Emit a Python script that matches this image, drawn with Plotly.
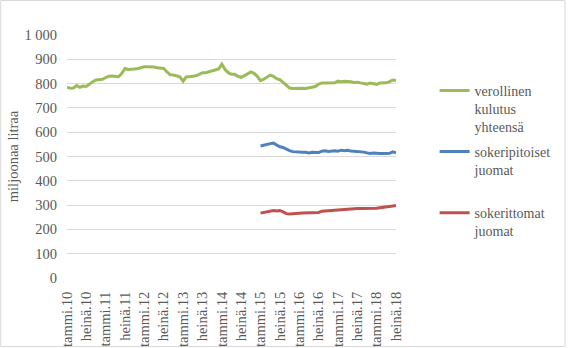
import plotly.graph_objects as go

# Finnish month abbreviations, monthly series Jan 2010 - Jul 2018
month_names = ["tammi", "helmi", "maalis", "huhti", "touko", "kesä",
               "heinä", "elo", "syys", "loka", "marras", "joulu"]
months = [f"{month_names[i % 12]}.{10 + i // 12}" for i in range(103)]

# Total taxable consumption, million litres (Jan 2010 - Jul 2018)
verollinen = [785, 781, 782, 792, 785, 790, 788, 800, 808, 815, 818, 818,
              825, 830, 831, 830, 828, 842, 862, 858, 858, 860, 862, 866,
              869, 869, 870, 868, 865, 862, 862, 848, 836, 835, 830, 828,
              810, 828, 828, 830, 832, 838, 845, 845, 848, 852, 857, 860,
              880, 858, 845, 838, 838, 830, 826, 832, 840, 848, 842, 830,
              812, 818, 826, 835, 830, 820, 816, 805, 792, 782, 780, 781,
              783, 781, 780, 782, 785, 788, 798, 802, 802, 802, 805, 803,
              810, 808, 810, 810, 808, 805, 806, 803, 802, 798, 802, 800,
              797, 802, 802, 803, 808, 815, 813]

# Sugary drinks, Jan 2015 - Jul 2018
sokeripitoiset = [543, 547, 549, 553, 555, 548, 540, 537, 530, 524, 520, 518,
                  518, 517, 517, 515, 517, 515, 516, 522, 524, 521, 524, 524,
                  522, 526, 524, 526, 523, 522, 522, 521, 518, 515, 512, 514,
                  512, 512, 512, 512, 513, 519, 515]

# Sugar-free drinks, Jan 2015 - Jul 2018
sokerittomat = [267, 270, 275, 278, 278, 276, 278, 272, 265, 263, 265, 266,
                266, 267, 268, 266, 268, 269, 270, 275, 276, 278, 278, 279,
                280, 282, 284, 284, 284, 285, 286, 286, 286, 284, 286, 287,
                287, 289, 290, 291, 293, 296, 299]

tick_labels = months[::6]
y_ticks = [0, 100, 200, 300, 400, 500, 600, 700, 800, 900, 1000]
y_tick_text = ["0", "100", "200", "300", "400", "500", "600", "700", "800", "900", "1 000"]

FONT = "Liberation Serif"
TXT = "#595959"

fig = go.Figure()
fig.add_trace(go.Scatter(x=months, y=verollinen, mode="lines",
                         name="verollinen<br>kulutus<br>yhteensä",
                         legendgroup="a",
                         line=dict(color="#9BBB59", width=3)))
fig.add_trace(go.Scatter(x=months[60:], y=sokeripitoiset, mode="lines",
                         name="sokeripitoiset<br>juomat<br>&nbsp;",
                         legendgroup="b",
                         line=dict(color="#4F81BD", width=3)))
fig.add_trace(go.Scatter(x=months[60:], y=sokerittomat, mode="lines",
                         name="sokerittomat<br>juomat",
                         legendgroup="c",
                         line=dict(color="#C0504D", width=3)))

fig.update_layout(
    width=568, height=348,
    margin=dict(l=67, r=171, t=35, b=70),
    paper_bgcolor="white", plot_bgcolor="white",
    font=dict(family=FONT, size=14, color=TXT),
    showlegend=True,
    legend=dict(x=1.114, y=0.836, xanchor="left", yanchor="top",
                valign="top", tracegroupgap=3.5, itemwidth=30,
                font=dict(family=FONT, size=14, color=TXT),
                bgcolor="rgba(0,0,0,0)"),
    shapes=[dict(type="rect", xref="paper", yref="paper",
                 x0=(0.5 - 67) / 330, x1=(566.5 - 67) / 330,
                 y0=(278 - 346.5) / 243, y1=(278 - 0.5) / 243,
                 line=dict(color="#D9D9D9", width=1), layer="below")],
)

fig.update_xaxes(type="category", categoryorder="array", categoryarray=months,
                 range=[0, 102], tickmode="array", tickvals=tick_labels,
                 ticktext=tick_labels, tickangle=-90, showgrid=False,
                 showline=False, ticks="outside", ticklen=7,
                 tickcolor="rgba(0,0,0,0)", automargin=False,
                 tickfont=dict(family=FONT, size=14.5, color=TXT))
fig.update_yaxes(range=[0, 1000], tickmode="array", tickvals=y_ticks,
                 ticktext=y_tick_text, showgrid=True, gridcolor="#D9D9D9",
                 gridwidth=1, zeroline=False, showline=False,
                 ticks="outside", ticklen=6, tickcolor="rgba(0,0,0,0)",
                 automargin=False,
                 tickfont=dict(family=FONT, size=14.5, color=TXT),
                 title=dict(text="miljoonaa litraa", standoff=2,
                            font=dict(family=FONT, size=14.5, color=TXT)))

fig.write_html("out.html")
